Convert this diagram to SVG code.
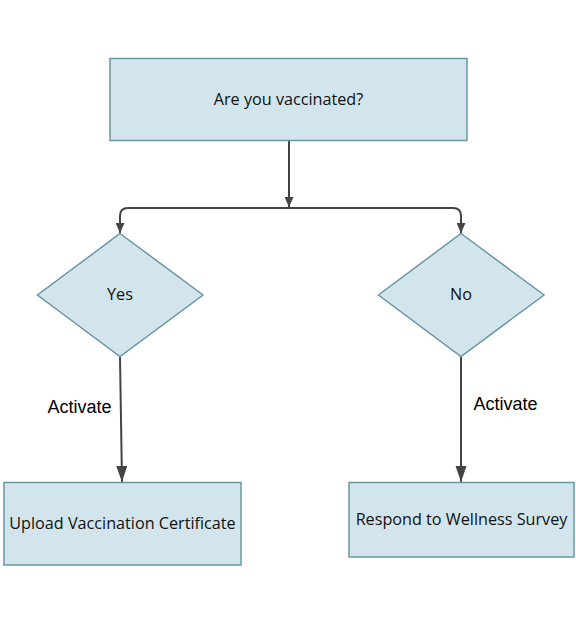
<svg xmlns="http://www.w3.org/2000/svg" width="576" height="624" viewBox="0 0 576 624">
<style>
.node{fill:#d3e5ec;stroke:#6b97a2;stroke-width:1.5}
.lbl{font-family:"Open Sans","Noto Sans",sans-serif;font-size:16.2px;fill:#111;text-anchor:middle;dominant-baseline:central}
.edge{fill:none;stroke:#444;stroke-width:2}
.elbl{font-family:"Liberation Sans",Arial,sans-serif;font-size:18px;fill:#000;text-anchor:middle;dominant-baseline:central}
</style>
<defs>
<marker id="ahs" markerUnits="userSpaceOnUse" markerWidth="12" markerHeight="9" refX="10" refY="4.5" orient="auto">
<path d="M0,0 L10,4.5 L0,9 Z" fill="#444"/>
</marker>
<marker id="ahl" markerUnits="userSpaceOnUse" markerWidth="18" markerHeight="12" refX="16" refY="5.5" orient="auto">
<path d="M0,0 L16,5.5 L0,11 Z" fill="#444"/>
</marker>
</defs>
<rect width="576" height="624" fill="#fff"/>
<g id="edges">
<path class="edge" d="M289,141 L289,207" marker-end="url(#ahs)"/>
<path class="edge" d="M289,208 L128,208 Q120,208 120,216 L120,233" marker-end="url(#ahs)"/>
<path class="edge" d="M289,208 L453,208 Q461,208 461,216 L461,233" marker-end="url(#ahs)"/>
<path class="edge" d="M120,357 L122,482" marker-end="url(#ahl)"/>
<path class="edge" d="M461,357 L461,482" marker-end="url(#ahl)"/>
<text class="elbl" x="79.5" y="407">Activate</text>
<text class="elbl" x="505.5" y="404">Activate</text>
</g>
<g id="n-question">
<rect class="node" x="110" y="58.5" width="357" height="82"/>
<text class="lbl" x="288.5" y="99">Are you vaccinated?</text>
</g>
<g id="n-yes">
<polygon class="node" points="120,233.5 203,295 120,356.5 37.5,295"/>
<text class="lbl" x="120" y="294">Yes</text>
</g>
<g id="n-no">
<polygon class="node" points="461,233.5 544,295 461,356.5 378.5,295"/>
<text class="lbl" x="461" y="294">No</text>
</g>
<g id="n-upload">
<rect class="node" x="4" y="482.5" width="237" height="82.5"/>
<text class="lbl" x="122.5" y="523">Upload Vaccination Certificate</text>
</g>
<g id="n-survey">
<rect class="node" x="349" y="482.5" width="225" height="74.5"/>
<text class="lbl" x="461.5" y="519">Respond to Wellness Survey</text>
</g>
</svg>
